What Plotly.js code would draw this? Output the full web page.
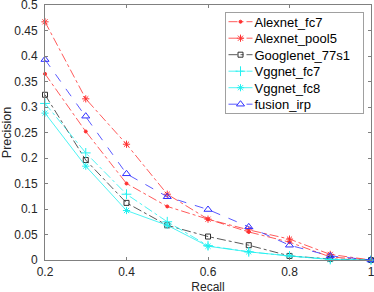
<!DOCTYPE html>
<html><head><meta charset="utf-8">
<script src="https://cdn.plot.ly/plotly-3.0.1.min.js"></script>
<style>html,body{margin:0;padding:0;background:#fff}#chart{width:374px;height:292px}</style>
</head><body><div id="chart"></div>
<script>
const recall = [0.2, 0.3, 0.4, 0.5, 0.6, 0.7, 0.8, 0.9, 1.0];
const alexnetFc7 = [0.365, 0.252, 0.150, 0.105, 0.080, 0.055, 0.035, 0.006, 0];
const alexnetPool5 = [0.467, 0.316, 0.227, 0.129, 0.080, 0.059, 0.041, 0.011, 0];
const googlenet77s1 = [0.324, 0.196, 0.112, 0.068, 0.046, 0.029, 0.008, 0.002, 0];
const vggnetFc7 = [0.307, 0.210, 0.129, 0.075, 0.028, 0.016, 0.008, 0.001, 0];
const vggnetFc8 = [0.288, 0.184, 0.097, 0.068, 0.027, 0.016, 0.008, 0.001, 0];
const fusionIrp = [0.393, 0.282, 0.169, 0.124, 0.099, 0.065, 0.029, 0.008, 0];
const names = ['Alexnet_fc7', 'Alexnet_pool5', 'Googlenet_77s1', 'Vggnet_fc7', 'Vggnet_fc8', 'fusion_irp'];
const xTicks = [0.2, 0.4, 0.6, 0.8, 1];
const xTickLabels = ['0.2', '0.4', '0.6', '0.8', '1'];
const yTicks = [0, 0.05, 0.1, 0.15, 0.2, 0.25, 0.3, 0.35, 0.4, 0.45, 0.5];
const yTickLabels = ['0', '0.05', '0.1', '0.15', '0.2', '0.25', '0.3', '0.35', '0.4', '0.45', '0.5'];

const series = [alexnetFc7, alexnetPool5, googlenet77s1, vggnetFc7, vggnetFc8, fusionIrp];
const styles = [
  {color: '#ff3030', dash: 'dashdot', symbol: 'circle', size: 3},
  {color: '#ff3030', dash: 'dashdot', symbol: 'asterisk-open', size: 6},
  {color: '#303030', dash: 'dashdot', symbol: 'square-open', size: 5},
  {color: '#20f0f0', dash: 'dashdot', symbol: 'cross-thin-open', size: 7},
  {color: '#20f0f0', dash: 'solid', symbol: 'asterisk-open', size: 6},
  {color: '#3030ff', dash: 'dash', symbol: 'triangle-up-open', size: 7}
];
const traces = series.map((ys, i) => ({
  x: recall, y: ys, name: names[i], type: 'scatter', mode: 'lines+markers', cliponaxis: false,
  line: {color: styles[i].color, width: 0.8, dash: styles[i].dash},
  marker: {color: styles[i].color, symbol: styles[i].symbol, size: styles[i].size, line: {color: styles[i].color, width: 1}}
}));
const FONT = '"Liberation Sans", Arial, sans-serif';
const axisCommon = {
  showgrid: false, zeroline: false, showline: true, mirror: 'ticks',
  linecolor: '#808080', linewidth: 1, ticks: 'inside', ticklen: 3, tickcolor: '#808080',
  ticklabeloverflow: 'allow',
  tickfont: {family: FONT, size: 12, color: '#262626'}
};
const layout = {
  width: 374, height: 292,
  margin: {l: 45, r: 3, t: 5, b: 32},
  paper_bgcolor: '#fff', plot_bgcolor: '#fff',
  showlegend: true,
  xaxis: Object.assign({}, axisCommon, {range: [0.2, 1], tickvals: xTicks, ticktext: xTickLabels,
    ticklabelstandoff: 1,
    title: {text: 'Recall', font: {family: FONT, size: 12, color: '#262626'}}}),
  yaxis: Object.assign({}, axisCommon, {range: [0, 0.5], tickvals: yTicks, ticktext: yTickLabels,
    ticklabelstandoff: 4,
    title: {text: 'Precision', font: {family: FONT, size: 12.5, color: '#262626'}}}),
  legend: {x: 0.975, xanchor: 'right', y: 0.975, yanchor: 'top', bgcolor: '#fff',
    bordercolor: '#a0a0a0', borderwidth: 1, tracegroupgap: 0, itemwidth: 30,
    font: {family: FONT, size: 13, color: '#000'}}
};
Plotly.newPlot('chart', traces, layout, {displayModeBar: false, staticPlot: true}).then(gd => {
  // nudge the x-axis title down a little, as in the reference
  const xt = gd.querySelector('text.xtitle');
  if (xt) xt.setAttribute('transform', 'translate(0,1.5)');
  // compact the legend rows to match the reference's tighter spacing
  const leg = gd.querySelector('g.legend');
  if (!leg) return;
  const items = leg.querySelectorAll('g.traces');
  const rowH = 16.5, firstY = 9.7, textX = 30, padR = 13, boxL = 224.5, boxT = 12, targetW = 95;
  let maxW = 0;
  const texts = [];
  items.forEach((g, i) => {
    g.setAttribute('transform', 'translate(0,' + (firstY + i * rowH) + ')');
    const t = g.querySelector('text.legendtext');
    if (t) { t.setAttribute('x', textX); texts.push(t); maxW = Math.max(maxW, t.getBBox().width); }
    g.querySelectorAll('.legendlines path').forEach(p => p.setAttribute('d', 'M4,0h24'));
    g.querySelectorAll('.legendpoints path').forEach(p => p.setAttribute('transform', 'translate(16,0)'));
  });
  if (maxW > targetW + 1) {
    const fs = 13 * targetW / maxW;
    texts.forEach(t => t.style.fontSize = fs + 'px');
    maxW = 0;
    texts.forEach(t => { maxW = Math.max(maxW, t.getBBox().width); });
  }
  const w = textX + maxW + padR, h = firstY + (items.length - 1) * rowH + 8.5;
  leg.querySelectorAll('rect.bg').forEach(r => { r.setAttribute('width', w); r.setAttribute('height', h); });
  gd.querySelectorAll('clipPath[id^="legend"] rect').forEach(r => { r.setAttribute('width', w + 2); r.setAttribute('height', h + 2); });
  leg.setAttribute('transform', 'translate(' + boxL + ',' + boxT + ')');
});
</script></body></html>
